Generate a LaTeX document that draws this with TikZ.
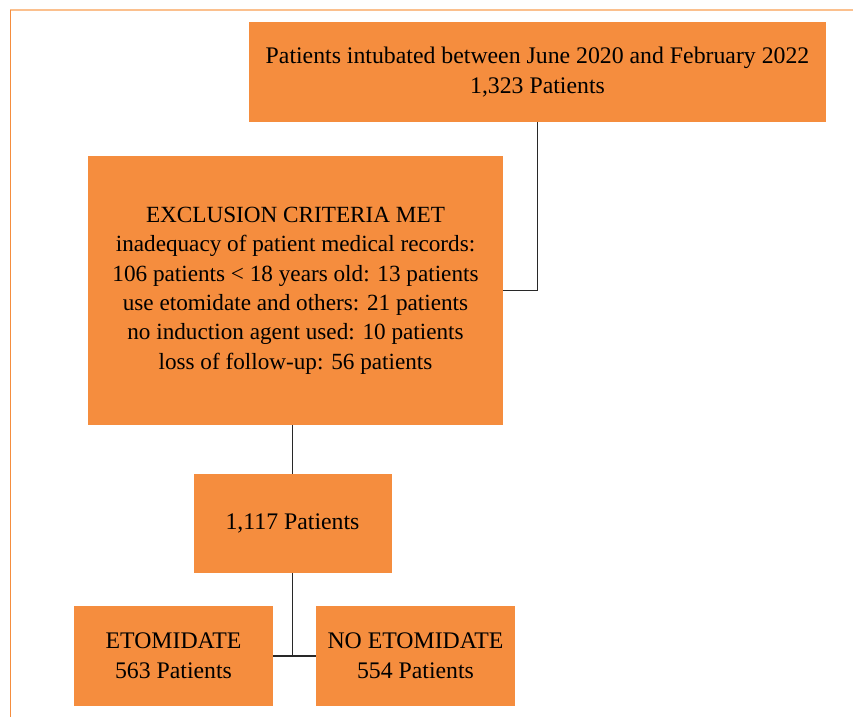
\documentclass[tikz,border=0pt]{standalone}
\usepackage{fontspec}
\setmainfont{Liberation Serif}
\usetikzlibrary{positioning}
\definecolor{OR}{RGB}{245,141,62}
\definecolor{LOR}{RGB}{251,192,142}
\definecolor{LN}{RGB}{40,40,40}

\begin{document}
\begin{tikzpicture}[x=0.3mm, y=-0.3mm,
  box/.style={fill=OR, inner sep=0pt, align=center,
              font=\fontsize{20.3}{25.4}\selectfont},
  link/.style={draw=LN, line width=1.6pt}
]
\useasboundingbox (0,0) rectangle (853,717);
% Frame
\draw[LOR, line width=1.2pt] (10,10) -- (853,10);
\draw[OR, line width=1.2pt] (10.5,10) -- (10.5,717);

% Boxes
\node[box, minimum width=173.1mm, minimum height=30mm] (intub) at (537.5,72)
  {Patients intubated between June 2020 and February 2022\\1,323 Patients};
\node[box, minimum width=124.5mm, minimum height=80.7mm,
      font=\fontsize{19.8}{25.1}\selectfont] (excl) at (295.5,290.5)
  {EXCLUSION CRITERIA MET\\inadequacy of patient medical records:\\
   106 patients < 18 years old: 13 patients\\use etomidate and others: 21 patients\\
   no induction agent used: 10 patients\\loss of follow-up: 56 patients};
\node[box, minimum width=59.4mm, minimum height=29.7mm] (remain) at (292.5,523.5)
  {1,117 Patients};
\node[box, minimum width=59.7mm, minimum height=30mm] (eto) at (173.5,656)
  {ETOMIDATE\\563 Patients};
\node[box, minimum width=59.7mm, minimum height=30mm] (noeto) at (415.5,656)
  {NO ETOMIDATE\\554 Patients};

% Connectors
\draw[link] (intub.south) |- (excl.east);
\draw[link] (remain.north |- excl.south) -- (remain.north);
\draw[link] (remain.south) -- (remain.south |- eto.east);
\draw[link] (eto.east) -- (noeto.west);
\end{tikzpicture}
\end{document}
